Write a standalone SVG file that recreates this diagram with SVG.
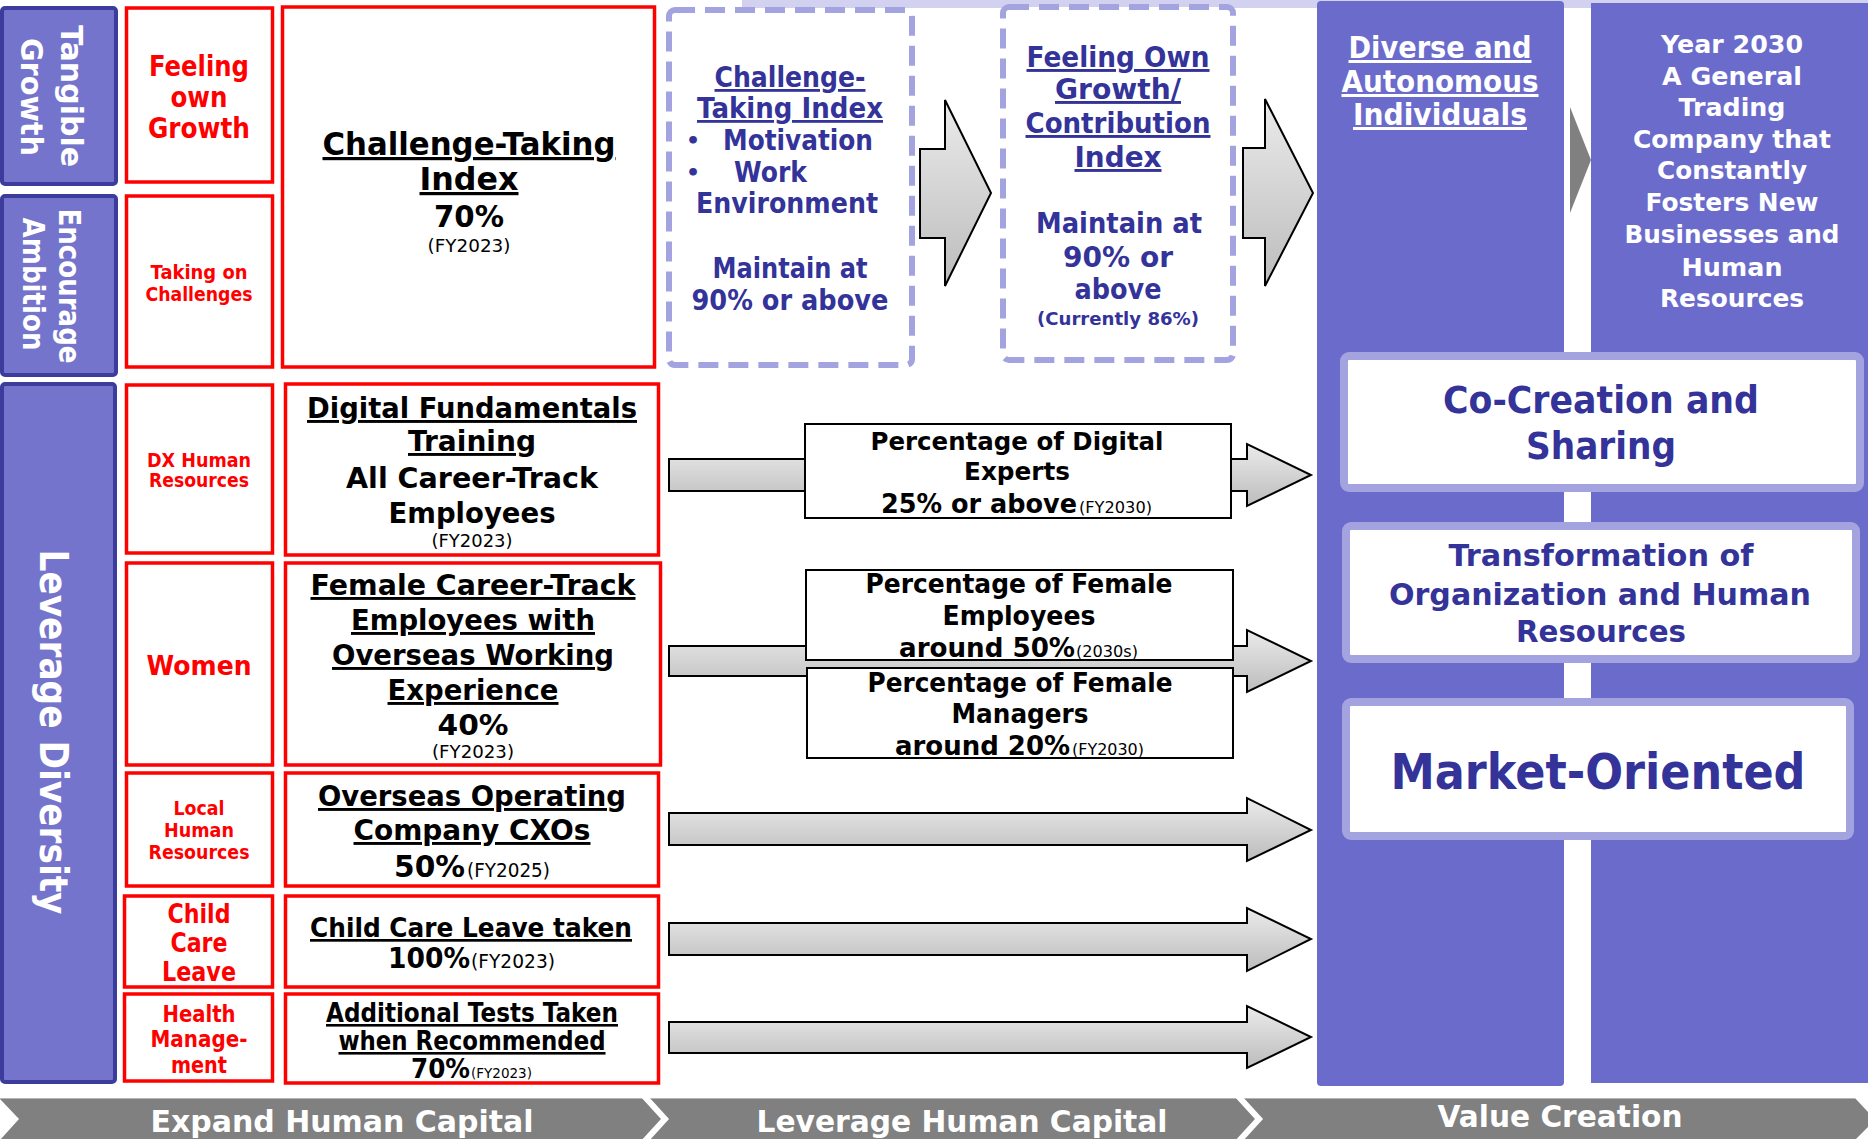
<svg xmlns="http://www.w3.org/2000/svg" width="1868" height="1139" viewBox="0 0 1868 1139">
<defs>
<linearGradient id="ag" x1="0" y1="0" x2="0" y2="1">
<stop offset="0" stop-color="#ebebeb"/>
<stop offset="1" stop-color="#bcbcbc"/>
</linearGradient>
<style>
text{font-family:"DejaVu Sans","Verdana",sans-serif;text-anchor:middle;font-weight:bold}
.st{text-anchor:start}
.wt{fill:#ffffff}
.rd{fill:#ff0000}
.bk{fill:#000000}
.bl{fill:#333399}
.rg{font-weight:normal}
.u{text-decoration:underline}
.lb{fill:#7474cc;stroke:#3c3c9c;stroke-width:4}
.rb{fill:#ffffff;stroke:#ff0000;stroke-width:3.5}
.db{fill:#ffffff;stroke:#a3a3e0;stroke-width:6;stroke-dasharray:20 10}
.col{fill:#6b6bcc}
.wb{fill:#ffffff;stroke:#a3a3e0;stroke-width:8}
.pb{fill:#ffffff;stroke:#000000;stroke-width:2}
.ar{fill:url(#ag);stroke:#000000;stroke-width:2;stroke-linejoin:miter}
</style>
</defs>
<rect width="1868" height="1139" fill="#ffffff"/>
<rect x="742" y="0" width="1126" height="8" fill="#d2d2f0"/>

<g id="value-columns">
<rect class="col" x="1317" y="1" width="247" height="1085" rx="4"/>
<rect class="col" x="1591" y="3" width="280" height="1080"/>
</g>

<g id="connectors">
<polygon class="ar" points="920,149 945,149 945,100 991,193 945,286 945,238 920,238"/>
<polygon class="ar" points="1243,148 1265,148 1265,99 1313,193 1265,286 1265,238 1243,238"/>
<polygon fill="#808080" points="1570,107 1591,160 1570,213"/>
<polygon class="ar" points="669,459 1247,459 1247,444 1311,475 1247,506 1247,491 669,491"/>
<polygon class="ar" points="669,646 1247,646 1247,630 1311,661 1247,692 1247,676 669,676"/>
<polygon class="ar" points="669,813 1247,813 1247,798 1311,830 1247,861 1247,845 669,845"/>
<polygon class="ar" points="669,923 1247,923 1247,908 1311,939 1247,971 1247,955 669,955"/>
<polygon class="ar" points="669,1022 1247,1022 1247,1006 1311,1037 1247,1068 1247,1053 669,1053"/>
</g>

<g id="tangible-growth">
<rect class="lb" x="2" y="8" width="114" height="176" rx="3"/>
<text class="wt" font-size="31" transform="translate(61,96) rotate(90)" textLength="142" lengthAdjust="spacingAndGlyphs">Tangible</text>
<text class="wt" font-size="31" transform="translate(21,97) rotate(90)" textLength="118" lengthAdjust="spacingAndGlyphs">Growth</text>
</g>
<g id="encourage-ambition">
<rect class="lb" x="2" y="196" width="114" height="179" rx="3"/>
<text class="wt" font-size="31" transform="translate(59,286) rotate(90)" textLength="155" lengthAdjust="spacingAndGlyphs">Encourage</text>
<text class="wt" font-size="31" transform="translate(23,284) rotate(90)" textLength="133" lengthAdjust="spacingAndGlyphs">Ambition</text>
</g>
<g id="leverage-diversity">
<rect class="lb" x="2" y="384" width="113" height="698" rx="3"/>
<text class="wt" font-size="39" transform="translate(40,732) rotate(90)" textLength="365" lengthAdjust="spacingAndGlyphs">Leverage Diversity</text>
</g>

<g id="feeling-own-growth">
<rect class="rb" x="126.5" y="8" width="146" height="174"/>
<text class="rd" font-size="28" x="199" y="76" textLength="100" lengthAdjust="spacingAndGlyphs">Feeling</text>
<text class="rd" font-size="28" x="199" y="107" textLength="57" lengthAdjust="spacingAndGlyphs">own</text>
<text class="rd" font-size="28" x="199" y="138" textLength="102" lengthAdjust="spacingAndGlyphs">Growth</text>
</g>
<g id="taking-on-challenges">
<rect class="rb" x="126.5" y="196" width="146" height="171"/>
<text class="rd" font-size="19" x="199" y="279" textLength="97" lengthAdjust="spacingAndGlyphs">Taking on</text>
<text class="rd" font-size="19" x="199" y="301" textLength="107" lengthAdjust="spacingAndGlyphs">Challenges</text>
</g>
<g id="challenge-taking-index">
<rect class="rb" x="282.5" y="7" width="372" height="360"/>
<text class="bk u" font-size="32" x="469" y="155" textLength="293" lengthAdjust="spacingAndGlyphs">Challenge-Taking</text>
<text class="bk u" font-size="32" x="469" y="190" textLength="99" lengthAdjust="spacingAndGlyphs">Index</text>
<text class="bk" font-size="31" x="469" y="227" textLength="70" lengthAdjust="spacingAndGlyphs">70%</text>
<text class="bk rg" font-size="17" x="469" y="252" textLength="83" lengthAdjust="spacingAndGlyphs">(FY2023)</text>
</g>

<g id="dx-human-resources">
<rect class="rb" x="126.5" y="385" width="146" height="168"/>
<text class="rd" font-size="19" x="199" y="467" textLength="104" lengthAdjust="spacingAndGlyphs">DX Human</text>
<text class="rd" font-size="19" x="199" y="487" textLength="100" lengthAdjust="spacingAndGlyphs">Resources</text>
</g>
<g id="digital-fundamentals">
<rect class="rb" x="285.5" y="384" width="373" height="171"/>
<text class="bk u" font-size="29" x="472" y="418" textLength="330" lengthAdjust="spacingAndGlyphs">Digital Fundamentals</text>
<text class="bk u" font-size="29" x="472" y="451" textLength="128" lengthAdjust="spacingAndGlyphs">Training</text>
<text class="bk" font-size="29" x="472" y="488" textLength="252" lengthAdjust="spacingAndGlyphs">All Career-Track</text>
<text class="bk" font-size="29" x="472" y="523" textLength="167" lengthAdjust="spacingAndGlyphs">Employees</text>
<text class="bk rg" font-size="17" x="472" y="547" textLength="81" lengthAdjust="spacingAndGlyphs">(FY2023)</text>
</g>

<g id="women">
<rect class="rb" x="126.5" y="563" width="146" height="202"/>
<text class="rd" font-size="27" x="199" y="675" textLength="105" lengthAdjust="spacingAndGlyphs">Women</text>
</g>
<g id="female-overseas">
<rect class="rb" x="285.5" y="563" width="375" height="202"/>
<text class="bk u" font-size="29" x="473" y="595" textLength="325" lengthAdjust="spacingAndGlyphs">Female Career-Track</text>
<text class="bk u" font-size="29" x="473" y="630" textLength="244" lengthAdjust="spacingAndGlyphs">Employees with</text>
<text class="bk u" font-size="29" x="473" y="665" textLength="282" lengthAdjust="spacingAndGlyphs">Overseas Working</text>
<text class="bk u" font-size="29" x="473" y="700" textLength="171" lengthAdjust="spacingAndGlyphs">Experience</text>
<text class="bk" font-size="29" x="473" y="735" textLength="71" lengthAdjust="spacingAndGlyphs">40%</text>
<text class="bk rg" font-size="17" x="473" y="758" textLength="82" lengthAdjust="spacingAndGlyphs">(FY2023)</text>
</g>

<g id="local-human-resources">
<rect class="rb" x="126.5" y="773" width="146" height="113"/>
<text class="rd" font-size="19" x="199" y="815" textLength="51" lengthAdjust="spacingAndGlyphs">Local</text>
<text class="rd" font-size="19" x="199" y="837" textLength="70" lengthAdjust="spacingAndGlyphs">Human</text>
<text class="rd" font-size="19" x="199" y="859" textLength="101" lengthAdjust="spacingAndGlyphs">Resources</text>
</g>
<g id="overseas-cxos">
<rect class="rb" x="285.5" y="773" width="373" height="113"/>
<text class="bk u" font-size="29" x="472" y="806" textLength="308" lengthAdjust="spacingAndGlyphs">Overseas Operating</text>
<text class="bk u" font-size="29" x="472" y="840" textLength="237" lengthAdjust="spacingAndGlyphs">Company CXOs</text>
<text class="bk st" font-size="30" x="394" y="877" textLength="71" lengthAdjust="spacingAndGlyphs">50%</text>
<text class="bk rg st" font-size="19" x="467" y="877" textLength="83" lengthAdjust="spacingAndGlyphs">(FY2025)</text>
</g>

<g id="child-care-leave">
<rect class="rb" x="124.5" y="896" width="148" height="91"/>
<text class="rd" font-size="26" x="199" y="923" textLength="63" lengthAdjust="spacingAndGlyphs">Child</text>
<text class="rd" font-size="26" x="199" y="952" textLength="57" lengthAdjust="spacingAndGlyphs">Care</text>
<text class="rd" font-size="26" x="199" y="981" textLength="74" lengthAdjust="spacingAndGlyphs">Leave</text>
</g>
<g id="child-care-taken">
<rect class="rb" x="285.5" y="896" width="373" height="91"/>
<text class="bk u" font-size="27" x="471" y="937" textLength="322" lengthAdjust="spacingAndGlyphs">Child Care Leave taken</text>
<text class="bk st" font-size="28" x="388" y="968" textLength="82" lengthAdjust="spacingAndGlyphs">100%</text>
<text class="bk rg st" font-size="19" x="471" y="968" textLength="84" lengthAdjust="spacingAndGlyphs">(FY2023)</text>
</g>

<g id="health-management">
<rect class="rb" x="124.5" y="994" width="148" height="87"/>
<text class="rd" font-size="23" x="199" y="1022" textLength="73" lengthAdjust="spacingAndGlyphs">Health</text>
<text class="rd" font-size="23" x="199" y="1047" textLength="97" lengthAdjust="spacingAndGlyphs">Manage-</text>
<text class="rd" font-size="23" x="199" y="1073" textLength="56" lengthAdjust="spacingAndGlyphs">ment</text>
</g>
<g id="additional-tests">
<rect class="rb" x="285.5" y="994" width="373" height="89"/>
<text class="bk u" font-size="26" x="472" y="1022" textLength="292" lengthAdjust="spacingAndGlyphs">Additional Tests Taken</text>
<text class="bk u" font-size="26" x="472" y="1050" textLength="267" lengthAdjust="spacingAndGlyphs">when Recommended</text>
<text class="bk st" font-size="26" x="411" y="1078" textLength="59" lengthAdjust="spacingAndGlyphs">70%</text>
<text class="bk rg st" font-size="14" x="471" y="1078" textLength="61" lengthAdjust="spacingAndGlyphs">(FY2023)</text>
</g>

<g id="challenge-index-target">
<rect class="db" x="669" y="10" width="243" height="355" rx="6"/>
<text class="bl u" font-size="28" x="790" y="87" textLength="151" lengthAdjust="spacingAndGlyphs">Challenge-</text>
<text class="bl u" font-size="28" x="790" y="118" textLength="186" lengthAdjust="spacingAndGlyphs">Taking Index</text>
<text class="bl" font-size="22" x="693" y="148">•</text>
<text class="bl st" font-size="28" x="723" y="150" textLength="150" lengthAdjust="spacingAndGlyphs">Motivation</text>
<text class="bl" font-size="22" x="693" y="180">•</text>
<text class="bl st" font-size="28" x="734" y="182" textLength="73" lengthAdjust="spacingAndGlyphs">Work</text>
<text class="bl" font-size="28" x="787" y="213" textLength="182" lengthAdjust="spacingAndGlyphs">Environment</text>
<text class="bl" font-size="28" x="790" y="278" textLength="155" lengthAdjust="spacingAndGlyphs">Maintain at</text>
<text class="bl" font-size="28" x="790" y="310" textLength="197" lengthAdjust="spacingAndGlyphs">90% or above</text>
</g>

<g id="growth-index-target">
<rect class="db" x="1003" y="7" width="230" height="353" rx="6"/>
<text class="bl u" font-size="29" x="1118" y="67" textLength="183" lengthAdjust="spacingAndGlyphs">Feeling Own</text>
<text class="bl u" font-size="29" x="1118" y="99" textLength="126" lengthAdjust="spacingAndGlyphs">Growth/</text>
<text class="bl u" font-size="29" x="1118" y="133" textLength="185" lengthAdjust="spacingAndGlyphs">Contribution</text>
<text class="bl u" font-size="29" x="1118" y="167" textLength="87" lengthAdjust="spacingAndGlyphs">Index</text>
<text class="bl" font-size="29" x="1119" y="233" textLength="166" lengthAdjust="spacingAndGlyphs">Maintain at</text>
<text class="bl" font-size="29" x="1118" y="267" textLength="110" lengthAdjust="spacingAndGlyphs">90% or</text>
<text class="bl" font-size="29" x="1118" y="299" textLength="87" lengthAdjust="spacingAndGlyphs">above</text>
<text class="bl" font-size="18" x="1118" y="325" textLength="162" lengthAdjust="spacingAndGlyphs">(Currently 86%)</text>
</g>

<g id="digital-experts">
<rect class="pb" x="805" y="424" width="426" height="94"/>
<text class="bk" font-size="25.5" x="1017" y="450" textLength="293" lengthAdjust="spacingAndGlyphs">Percentage of Digital</text>
<text class="bk" font-size="25.5" x="1017" y="480" textLength="106" lengthAdjust="spacingAndGlyphs">Experts</text>
<text class="bk st" font-size="26" x="881" y="513" textLength="196" lengthAdjust="spacingAndGlyphs">25% or above</text>
<text class="bk rg st" font-size="15" x="1079" y="513" textLength="73" lengthAdjust="spacingAndGlyphs">(FY2030)</text>
</g>
<g id="female-employees">
<rect class="pb" x="806" y="570" width="427" height="90"/>
<text class="bk" font-size="27" x="1019" y="593" textLength="307" lengthAdjust="spacingAndGlyphs">Percentage of Female</text>
<text class="bk" font-size="27" x="1019" y="625" textLength="153" lengthAdjust="spacingAndGlyphs">Employees</text>
<text class="bk st" font-size="27" x="899" y="657" textLength="176" lengthAdjust="spacingAndGlyphs">around 50%</text>
<text class="bk rg st" font-size="15" x="1076" y="657" textLength="62" lengthAdjust="spacingAndGlyphs">(2030s)</text>
</g>
<g id="female-managers">
<rect class="pb" x="807" y="668" width="426" height="90"/>
<text class="bk" font-size="27" x="1020" y="692" textLength="305" lengthAdjust="spacingAndGlyphs">Percentage of Female</text>
<text class="bk" font-size="27" x="1020" y="723" textLength="137" lengthAdjust="spacingAndGlyphs">Managers</text>
<text class="bk st" font-size="27" x="895" y="755" textLength="175" lengthAdjust="spacingAndGlyphs">around 20%</text>
<text class="bk rg st" font-size="15" x="1072" y="755" textLength="72" lengthAdjust="spacingAndGlyphs">(FY2030)</text>
</g>

<g id="diverse-autonomous">
<text class="wt u" font-size="30" x="1440" y="58" textLength="183" lengthAdjust="spacingAndGlyphs">Diverse and</text>
<text class="wt u" font-size="30" x="1440" y="92" textLength="197" lengthAdjust="spacingAndGlyphs">Autonomous</text>
<text class="wt u" font-size="30" x="1440" y="125" textLength="174" lengthAdjust="spacingAndGlyphs">Individuals</text>
</g>
<g id="year-2030">
<text class="wt" font-size="25" x="1732" y="53" textLength="142" lengthAdjust="spacingAndGlyphs">Year 2030</text>
<text class="wt" font-size="25" x="1732" y="85" textLength="140" lengthAdjust="spacingAndGlyphs">A General</text>
<text class="wt" font-size="25" x="1732" y="116" textLength="107" lengthAdjust="spacingAndGlyphs">Trading</text>
<text class="wt" font-size="25" x="1732" y="148" textLength="198" lengthAdjust="spacingAndGlyphs">Company that</text>
<text class="wt" font-size="25" x="1732" y="179" textLength="150" lengthAdjust="spacingAndGlyphs">Constantly</text>
<text class="wt" font-size="25" x="1732" y="211" textLength="173" lengthAdjust="spacingAndGlyphs">Fosters New</text>
<text class="wt" font-size="25" x="1732" y="243" textLength="215" lengthAdjust="spacingAndGlyphs">Businesses and</text>
<text class="wt" font-size="25" x="1732" y="276" textLength="101" lengthAdjust="spacingAndGlyphs">Human</text>
<text class="wt" font-size="25" x="1732" y="307" textLength="144" lengthAdjust="spacingAndGlyphs">Resources</text>
</g>

<g id="co-creation">
<rect class="wb" x="1344" y="356" width="516" height="132" rx="5"/>
<text class="bl" font-size="37" x="1601" y="413" textLength="316" lengthAdjust="spacingAndGlyphs">Co-Creation and</text>
<text class="bl" font-size="37" x="1601" y="459" textLength="150" lengthAdjust="spacingAndGlyphs">Sharing</text>
</g>
<g id="transformation">
<rect class="wb" x="1346" y="526" width="510" height="133" rx="5"/>
<text class="bl" font-size="31" x="1601" y="566" textLength="305" lengthAdjust="spacingAndGlyphs">Transformation of</text>
<text class="bl" font-size="31" x="1600" y="605" textLength="422" lengthAdjust="spacingAndGlyphs">Organization and Human</text>
<text class="bl" font-size="31" x="1601" y="642" textLength="170" lengthAdjust="spacingAndGlyphs">Resources</text>
</g>
<g id="market-oriented">
<rect class="wb" x="1346" y="702" width="504" height="134" rx="5"/>
<text class="bl" font-size="50" x="1598" y="789" textLength="415" lengthAdjust="spacingAndGlyphs">Market-Oriented</text>
</g>

<g id="phase-band">
<rect x="0" y="1098" width="1868" height="41" fill="#808080"/>
<line x1="0" y1="1098.5" x2="1868" y2="1098.5" stroke="#b4b4b4" stroke-width="1"/>
<polygon fill="#ffffff" points="0,1099 19,1119 0,1140"/>
<polyline fill="none" stroke="#ffffff" stroke-width="6" points="644,1096 665,1119 644,1142"/>
<polyline fill="none" stroke="#ffffff" stroke-width="6" points="1238,1096 1259,1119 1238,1142"/>
<polygon fill="#ffffff" points="1854,1097 1869,1097 1869,1113"/>
<polygon fill="#ffffff" points="1869,1126 1869,1140 1855,1140"/>
<text class="wt" font-size="31" x="342" y="1132" textLength="383" lengthAdjust="spacingAndGlyphs">Expand Human Capital</text>
<text class="wt" font-size="31" x="962" y="1132" textLength="411" lengthAdjust="spacingAndGlyphs">Leverage Human Capital</text>
<text class="wt" font-size="31" x="1560" y="1127" textLength="245" lengthAdjust="spacingAndGlyphs">Value Creation</text>
</g>
</svg>
